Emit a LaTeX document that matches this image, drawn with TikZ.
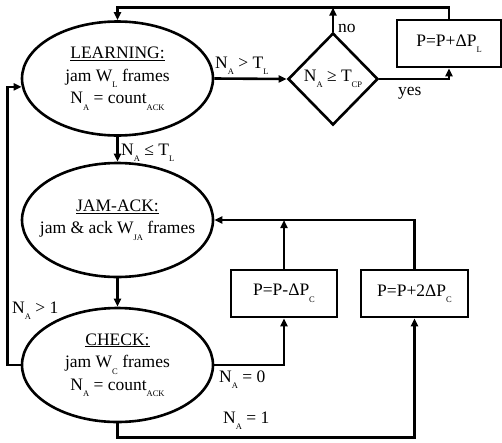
\documentclass[tikz,border=0pt]{standalone}
\usepackage{fontspec}
\setmainfont{Liberation Serif}
\usetikzlibrary{shapes.geometric,arrows.meta,calc}

% small lowered index used in the labels (N_A, T_L, ...)
\newcommand\lowsub[1]{\raisebox{-6.5pt}{\fontsize{8.5}{8.5}\selectfont #1}}

\tikzset{
  base/.style={line width=2.6pt},
  state/.style={base, draw, ellipse, minimum width=191pt, minimum height=114pt, inner sep=0pt},
  decide/.style={base, draw, diamond, minimum width=90pt, minimum height=92pt, inner sep=0pt},
  update/.style={base, draw, rectangle, minimum height=47pt, inner sep=2pt},
  txt/.style={font=\fontsize{17.5}{22.5}\selectfont, align=center, inner sep=0pt},
  lbl/.style={font=\fontsize{17.5}{22.5}\selectfont, inner sep=0pt, anchor=base west},
  arr/.style={base, -{Triangle[length=8pt,width=7pt]}},
}

\begin{document}
\begin{tikzpicture}[x=1pt,y=-1pt]
  \useasboundingbox (0,0) rectangle (502,442);

  % states
  \node[state] (learn) at (117.5,78.5) {};
  \node[txt] (learnT) at (learn.center)
    {\underline{LEARNING:}\\jam W\lowsub{L} frames\\N\lowsub{A} = count\lowsub{ACK}};

  \node[state] (jam) at (117.5,220) {};
  \node[txt] (jamT) at (jam.center)
    {\underline{JAM-ACK:}\\jam \& ack W\lowsub{JA} frames};

  \node[state] (check) at (117.5,365) {};
  \node[txt] (checkT) at (check.center)
    {\underline{CHECK:}\\jam W\lowsub{C} frames\\N\lowsub{A} = count\lowsub{ACK}};

  % decision and updates
  \node[decide] (dec) at (333,79) {};
  \node[txt] (decT) at (dec.center) {N\lowsub{A} ≥ T\lowsub{CP}};

  \node[update, minimum width=104pt] (pl) at (449,43.5) {};
  \node[txt] (plT) at (pl.center) {P=P+ΔP\lowsub{L}};

  \node[update, minimum width=106pt] (pm) at (284,293.5) {};
  \node[txt] (pmT) at (pm.center) {P=P-ΔP\lowsub{C}};

  \node[update, minimum width=107pt] (pp) at (414.5,293.5) {};
  \node[txt] (ppT) at (pp.center) {P=P+2ΔP\lowsub{C}};

  \coordinate (topy) at (0,7.5);

  % connectors
  \draw[arr] (learn.east) -- (dec.west);
  \draw[arr] (dec.north) -- (dec.north |- topy);
  \draw[arr] (dec.east) -| (pl.south);
  \draw[arr] (pl.north) |- (topy -| learn.north) -- (learn.north);

  \draw[arr] (learn.south) -- (jam.north);
  \draw[arr] (jam.south) -- (check.north);

  \draw[arr] (check.east) -| (pm.south);
  \draw[arr] (check.south) -- ++(0,14) -| (pp.south);
  \draw[arr] (pp.north) |- (jam.east);
  \draw[arr] (pm.north) -- (pm.north |- jam.east);
  \draw[arr] (check.west) -- ++(-13,0) |- (learn.185);

  % branch labels
  \node[lbl] (lgt) at (215,68) {N\lowsub{A} > T\lowsub{L}};
  \node[lbl] (lle) at (121,155) {N\lowsub{A} ≤ T\lowsub{L}};
  \node[lbl] (lno) at (338,32) {no};
  \node[lbl] (lyes) at (398,95) {yes};
  \node[lbl] (lgo) at (12,313) {N\lowsub{A} > 1};
  \node[lbl] (lz) at (219,382) {N\lowsub{A} = 0};
  \node[lbl] (lone) at (223,423) {N\lowsub{A} = 1};
\end{tikzpicture}
\end{document}
